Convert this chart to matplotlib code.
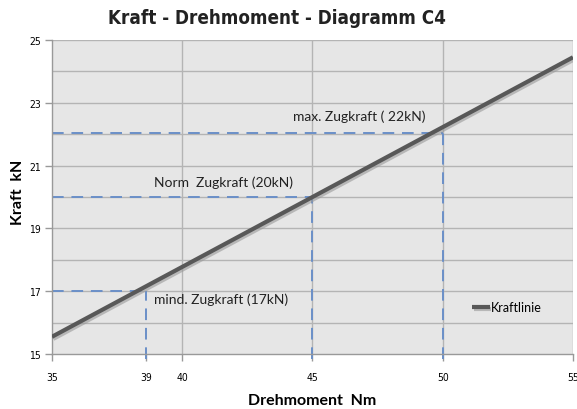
import matplotlib.pyplot as plt
import matplotlib.patheffects as pe

# Kraftlinie (Drehmoment Nm -> Kraft kN)
line_x = [35, 55]
line_y = [15.55, 24.45]

# markierte Punkte
point_x = [38.6, 45, 50]
point_y = [17, 20, 22.05]
point_labels = ["mind. Zugkraft (17kN)", "Norm  Zugkraft (20kN)", "max. Zugkraft ( 22kN)"]
label_pos = [(38.9, 16.75), (38.9, 20.5), (44.25, 22.6)]

xticks = [35, 38.6, 40, 45, 50, 55]
xtick_labels = ["35", "39", "40", "45", "50", "55"]
yticks = [15, 17, 19, 21, 23, 25]

narrow = ["Liberation Sans Narrow", "DejaVu Sans"]

fig = plt.figure(figsize=(5.77, 4.10), dpi=100)
ax = fig.add_axes([0.090, 0.134, 0.903, 0.766])
ax.set_facecolor("#e6e6e6")
ax.set_xlim(35, 55)
ax.set_ylim(15, 25)

# Gitter
for gy in range(16, 26):
    ax.axhline(gy, color="#b4b4b4", lw=1.0, zorder=1)
for gx in [40, 45, 50, 55]:
    ax.axvline(gx, color="#b4b4b4", lw=1.0, zorder=1)

# Hilfslinien
for px, py in zip(point_x, point_y):
    ax.plot([35, px], [py, py], color="#6a8fc8", lw=1.4, ls=(0, (6, 4)), zorder=2)
    ax.plot([px, px], [14.85, py], color="#6a8fc8", lw=1.4, ls=(0, (6, 4)), zorder=2,
            clip_on=False)

ax.plot(line_x, line_y, color="#585858", lw=3.0, solid_capstyle="butt", zorder=3,
        label="Kraftlinie",
        path_effects=[pe.SimpleLineShadow(offset=(1, -1.5), shadow_color="#999999", alpha=0.6),
                      pe.Normal()])

for txt, (tx, ty) in zip(point_labels, label_pos):
    ax.text(tx, ty, txt, fontsize=10, family=["Lato", "DejaVu Sans"], color="#222222",
            va="center", ha="left", zorder=4)

ax.set_xticks(xticks)
ax.set_xticklabels(xtick_labels, family=narrow, fontsize=7.5, stretch="condensed")
ax.set_yticks(yticks)
ax.set_yticklabels([str(v) for v in yticks], family=narrow, fontsize=7.5, stretch="condensed")
ax.tick_params(axis="both", length=5, color="#999999", width=1.0)
ax.tick_params(axis="x", pad=8)
ax.tick_params(axis="y", pad=3)

for s in ["top", "right"]:
    ax.spines[s].set_visible(False)
for s in ["left", "bottom"]:
    ax.spines[s].set_color("#999999")
    ax.spines[s].set_linewidth(1.0)

ax.set_xlabel("Drehmoment  Nm", fontsize=11.5, fontweight="bold", family=["Lato", "DejaVu Sans"],
              labelpad=8)
fig.text(0.031, 0.53, "Kraft  kN", rotation=90, ha="center", va="center",
         fontsize=11.5, fontweight="bold", family=["Lato", "DejaVu Sans"])
fig.text(0.48, 0.955, "Kraft - Drehmoment - Diagramm C4", ha="center", va="center",
         fontsize=13.5, fontweight="bold", family=narrow, stretch="condensed", color="#222222")

leg = ax.legend(loc="center left", bbox_to_anchor=(0.785, 0.15), frameon=False,
                handlelength=1.4, handletextpad=0.1, prop={"family": ["Lato", "DejaVu Sans"], "size": 9})

fig.savefig("out.png", dpi=100)
